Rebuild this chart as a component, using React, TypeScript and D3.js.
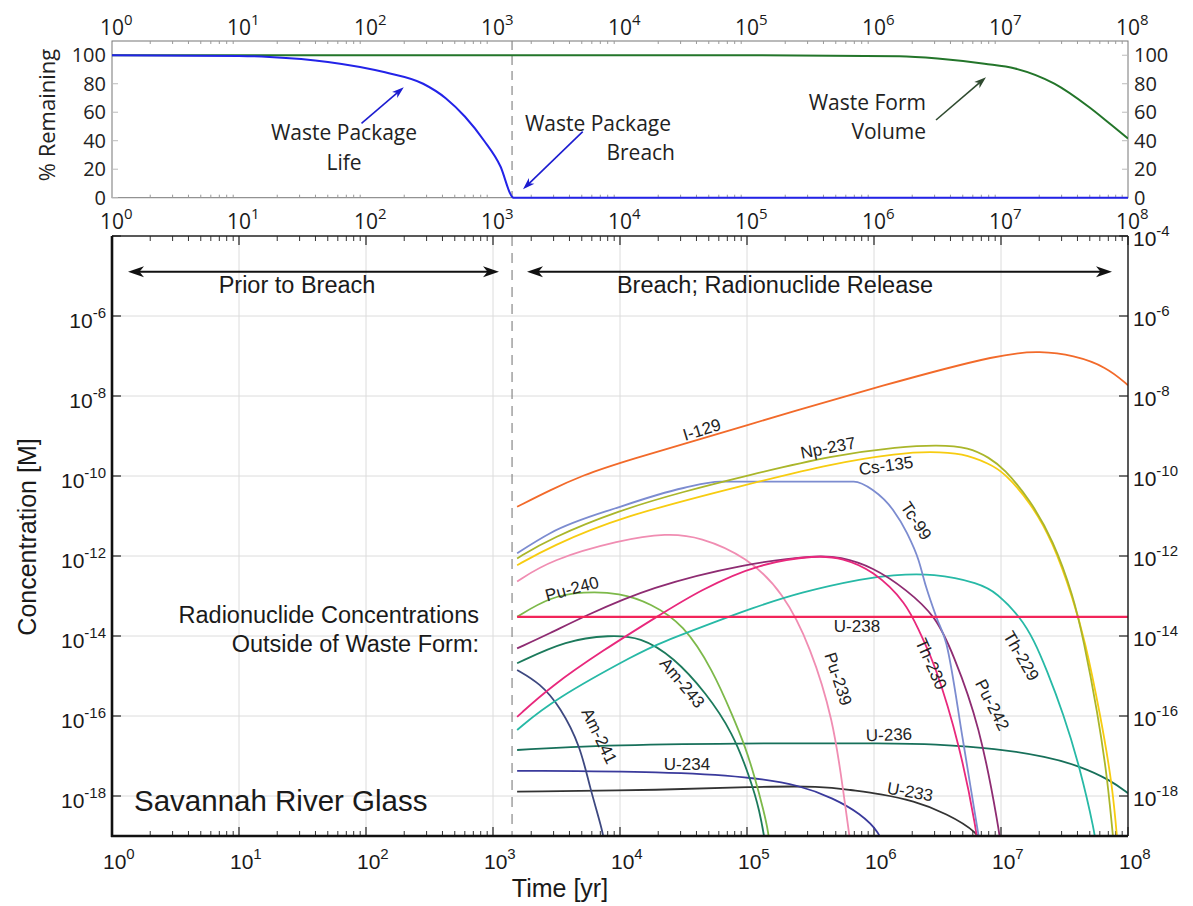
import React from 'react';
import * as d3 from 'd3';

// ---------- DATA ----------
// Top panel: [log10(time, yr), % remaining]
const wastePackageLife: number[][] = [
  [0, 100], [1.0, 99.5], [1.24, 98.8], [1.7, 95.3], [2.15, 88], [2.45, 80], [2.63, 69.7],
  [2.78, 56.8], [2.93, 40], [3.06, 21.7], [3.15, 0.7], [3.16, 0], [8, 0],
];
const wasteFormVolume: number[][] = [
  [0, 100], [5.0, 100], [6.2, 99.3], [6.5, 97.7], [6.87, 94], [7.11, 90.7], [7.42, 80],
  [7.69, 63.8], [7.87, 51], [8.0, 41.6],
];

// Bottom panel: [log10(time, yr), log10(concentration, M)]
const I129 = [[3.19, -10.77], [3.45, -10.35], [3.71, -9.98], [4.0, -9.66], [5.0, -8.73], [6.1, -7.7], [7.02, -6.93], [7.31, -6.88], [7.57, -6.98], [7.83, -7.27], [8.0, -7.73]];
const Np237 = [[3.19, -12.06], [3.45, -11.56], [4.0, -10.85], [4.5, -10.39], [5.0, -9.99], [5.68, -9.48], [6.2, -9.27], [6.5, -9.22], [6.75, -9.28], [6.91, -9.55], [7.02, -9.8], [7.23, -10.6], [7.41, -11.6], [7.57, -13.0], [7.65, -14.1], [7.76, -15.9], [7.84, -17.6], [7.89, -19.3], [7.9, -19.6]];
const Cs135 = [[3.19, -12.23], [3.45, -11.77], [4.0, -11.02], [5.0, -10.21], [5.68, -9.68], [6.2, -9.43], [6.44, -9.39], [6.7, -9.43], [6.91, -9.7], [7.02, -9.9], [7.23, -10.65], [7.41, -11.65], [7.57, -13.1], [7.66, -14.1], [7.78, -15.93], [7.88, -17.77], [7.92, -19.3], [7.93, -19.6]];
const Tc99 = [[3.19, -11.93], [3.45, -11.43], [4.0, -10.77], [4.5, -10.3], [4.79, -10.14], [5.84, -10.14], [5.99, -10.35], [6.15, -10.85], [6.26, -11.43], [6.35, -12.1], [6.41, -12.77], [6.49, -13.52], [6.57, -14.2], [6.7, -16.6], [6.82, -18.93], [6.84, -19.3]];
const Pu239 = [[3.19, -12.64], [3.45, -12.1], [4.0, -11.6], [4.37, -11.43], [4.63, -11.52], [5.0, -12.02], [5.29, -12.93], [5.5, -14.27], [5.68, -16.1], [5.76, -17.93], [5.82, -19.3], [5.83, -19.6]];
const Pu240 = [[3.19, -13.52], [3.45, -13.02], [3.71, -12.89], [4.0, -12.92], [4.24, -13.18], [4.5, -13.7], [4.73, -14.85], [4.89, -16.02], [4.99, -16.8], [5.06, -17.52], [5.13, -18.35], [5.17, -18.93], [5.18, -19.3], [5.19, -19.6]];
const Pu242 = [[3.19, -14.31], [3.45, -13.93], [3.71, -13.52], [4.24, -12.77], [5.0, -12.18], [5.55, -11.98], [5.73, -12.02], [5.99, -12.27], [6.26, -12.85], [6.49, -13.52], [6.62, -14.43], [6.83, -16.18], [6.99, -18.93], [7.0, -19.3], [7.01, -19.6]];
const Th230 = [[3.19, -16.02], [3.45, -15.27], [3.87, -14.35], [4.29, -13.52], [4.63, -12.85], [5.1, -12.18], [5.55, -11.98], [5.75, -12.05], [5.99, -12.35], [6.26, -13.18], [6.36, -13.93], [6.47, -14.6], [6.68, -16.77], [6.81, -18.93], [6.82, -19.3], [6.83, -19.6]];
const Th229 = [[3.19, -16.35], [3.47, -15.6], [4.16, -14.4], [4.31, -14.18], [4.79, -13.6], [5.0, -13.35], [5.42, -12.9], [5.94, -12.55], [6.13, -12.48], [6.47, -12.43], [6.83, -12.68], [6.97, -12.93], [7.15, -13.52], [7.26, -14.1], [7.36, -14.85], [7.49, -15.93], [7.62, -17.27], [7.74, -18.93], [7.75, -19.3], [7.76, -19.6]];
const U238 = [[3.19, -13.52], [8.0, -13.52]];
const Am243 = [[3.19, -14.68], [3.58, -14.1], [3.92, -13.98], [4.16, -14.02], [4.42, -14.52], [4.68, -15.43], [4.89, -16.43], [5.02, -17.52], [5.1, -18.35], [5.15, -19.3], [5.16, -19.6]];
const Am241 = [[3.19, -14.85], [3.37, -15.18], [3.53, -15.77], [3.69, -16.77], [3.76, -17.77], [3.87, -18.93], [3.88, -19.3], [3.89, -19.6]];
const U236 = [[3.19, -16.85], [3.84, -16.73], [4.89, -16.68], [6.2, -16.68], [6.44, -16.7], [6.97, -16.81], [7.36, -17.02], [7.62, -17.25], [7.86, -17.6], [8.0, -17.93]];
const U234 = [[3.19, -17.37], [4.37, -17.39], [5.02, -17.52], [5.42, -17.73], [5.68, -18.06], [5.89, -18.43], [6.05, -18.93], [6.07, -19.3], [6.08, -19.6]];
const U233 = [[3.19, -17.89], [4.37, -17.85], [5.02, -17.77], [5.6, -17.75], [5.81, -17.85], [6.05, -17.95], [6.31, -18.12], [6.57, -18.43], [6.83, -18.93], [6.86, -19.3], [6.87, -19.6]];

const timeDecades = [0, 1, 2, 3, 4, 5, 6, 7, 8];
const concDecades = [-18, -16, -14, -12, -10, -8, -6, -4];
const pctTicks = [0, 20, 40, 60, 80, 100];
const breachYearLog = 3.15;

// ---------- STYLES / LAYOUT ----------
const SERIES = [
  { name: 'U-233', data: U233, color: '#333333' },
  { name: 'U-234', data: U234, color: '#3a3a9c' },
  { name: 'U-236', data: U236, color: '#17705a' },
  { name: 'Am-241', data: Am241, color: '#3d4880' },
  { name: 'Am-243', data: Am243, color: '#1c7a5c' },
  { name: 'Pu-240', data: Pu240, color: '#7db94a' },
  { name: 'Pu-239', data: Pu239, color: '#f08db2' },
  { name: 'Th-229', data: Th229, color: '#27b9a6' },
  { name: 'Pu-242', data: Pu242, color: '#8e2c72' },
  { name: 'Th-230', data: Th230, color: '#e8287c' },
  { name: 'Tc-99', data: Tc99, color: '#7c8cd0', flat: true },
  { name: 'Cs-135', data: Cs135, color: '#f7cc10' },
  { name: 'Np-237', data: Np237, color: '#aab62a' },
  { name: 'I-129', data: I129, color: '#f26a2a' },
  { name: 'U-238', data: U238, color: '#f2255a' },
];

const LABELS = [
  { text: 'I-129', x: 702, y: 430, rot: -17 },
  { text: 'Np-237', x: 828, y: 448, rot: -11 },
  { text: 'Cs-135', x: 886, y: 466, rot: -8 },
  { text: 'Tc-99', x: 916, y: 521, rot: 57 },
  { text: 'Pu-240', x: 572, y: 589, rot: -15 },
  { text: 'U-238', x: 857, y: 626, rot: 0 },
  { text: 'Am-243', x: 682, y: 683, rot: 50 },
  { text: 'Am-241', x: 599, y: 736, rot: 64 },
  { text: 'Pu-239', x: 838, y: 679, rot: 72 },
  { text: 'U-236', x: 889, y: 735, rot: -2 },
  { text: 'U-234', x: 687, y: 764, rot: 0 },
  { text: 'U-233', x: 910, y: 792, rot: 10 },
  { text: 'Th-230', x: 931, y: 664, rot: 66 },
  { text: 'Pu-242', x: 992, y: 705, rot: 63 },
  { text: 'Th-229', x: 1021, y: 656, rot: 60 },
];

const L = 112, R = 1128;
const T1 = 41, B1 = 197.7;
const T2 = 236, B2 = 836;
const xS = d3.scaleLog().domain([1, 1e8]).range([L, R]);
const yTop = d3.scaleLinear().domain([0, 110]).range([B1, T1]);
const yBot = d3.scaleLog().domain([1e-19, 1e-4]).range([B2, T2]);

const FONT_B = '"Liberation Sans", Arial, Helvetica, sans-serif';
const FONT_T = '"Open Sans", "Noto Sans", sans-serif';

function head(x1: number, y1: number, x2: number, y2: number, len: number, w: number) {
  const dx = x2 - x1, dy = y2 - y1;
  const d = Math.hypot(dx, dy);
  const ux = dx / d, uy = dy / d;
  const nx = -uy, ny = ux;
  const bx = x2 - ux * len, by = y2 - uy * len;
  const mx = x2 - ux * len * 0.72, my = y2 - uy * len * 0.72;
  return `M${x2},${y2}L${bx + nx * w / 2},${by + ny * w / 2}L${mx},${my}L${bx - nx * w / 2},${by - ny * w / 2}Z`;
}

function Arrow({ x1, y1, x2, y2, color, sw, len, w }: any) {
  const dx = x2 - x1, dy = y2 - y1;
  const d = Math.hypot(dx, dy);
  const ex = x2 - (dx / d) * len * 0.6, ey = y2 - (dy / d) * len * 0.6;
  return (
    <g>
      <line x1={x1} y1={y1} x2={ex} y2={ey} stroke={color} strokeWidth={sw} />
      <path d={head(x1, y1, x2, y2, len, w)} fill={color} />
    </g>
  );
}

function DoubleArrow({ x1, x2, y }: any) {
  return (
    <g>
      <line x1={x1 + 8} y1={y} x2={x2 - 8} y2={y} stroke="#111" strokeWidth={2} />
      <path d={head(x2, y, x1, y, 16, 11)} fill="#111" />
      <path d={head(x1, y, x2, y, 16, 11)} fill="#111" />
    </g>
  );
}

function Pow({ x, y, e, anchor, fs, es, font }: any) {
  return (
    <text x={x} y={y} fontSize={fs} fontFamily={font} fill="#1a1a1a" textAnchor={anchor}>
      10<tspan dy={-fs * 0.48} fontSize={es}>{e}</tspan>
    </text>
  );
}

export default function App() {
  const lineBotSmooth = d3.line<number[]>()
    .x(d => xS(Math.pow(10, d[0])))
    .y(d => yBot(Math.pow(10, d[1])))
    .curve(d3.curveBasis);
  const lineBotFlat = d3.line<number[]>()
    .x(d => xS(Math.pow(10, d[0])))
    .y(d => yBot(Math.pow(10, d[1])))
    .curve(d3.curveMonotoneX);
  const lineTop = d3.line<number[]>()
    .x(d => xS(Math.pow(10, d[0])))
    .y(d => yTop(d[1]))
    .curve(d3.curveMonotoneX);

  const minor: number[] = [];
  for (let k = 0; k < 8; k++) for (let m = 2; m <= 9; m++) minor.push(m * Math.pow(10, k));
  const xb = xS(Math.pow(10, breachYearLog));

  return (
    <div style={{ position: 'absolute', left: 0, top: 0 }}>
      <svg width={1193} height={906} style={{ display: 'block', background: '#fff' }}>
        <defs>
          <clipPath id="clipBot"><rect x={L} y={T2} width={R - L} height={B2 - T2} /></clipPath>
          <clipPath id="clipTop"><rect x={L} y={T1 - 2} width={R - L} height={B1 - T1 + 4} /></clipPath>
        </defs>

        {/* ===== TOP PANEL ===== */}
        <rect x={L} y={T1} width={R - L} height={B1 - T1} fill="none" stroke="#777" strokeWidth={1} />
        {minor.map((v, i) => (
          <g key={'tm' + i}>
            <line x1={xS(v)} x2={xS(v)} y1={T1} y2={T1 + 3} stroke="#999" />
            <line x1={xS(v)} x2={xS(v)} y1={B1} y2={B1 - 3} stroke="#999" />
          </g>
        ))}
        {pctTicks.map(p => (
          <g key={'pt' + p}>
            <line x1={L} x2={L + 6} y1={yTop(p)} y2={yTop(p)} stroke="#bbb" />
            <line x1={R} x2={R - 6} y1={yTop(p)} y2={yTop(p)} stroke="#bbb" />
            <text x={106} y={yTop(p) + 7} fontSize={20} fontFamily={FONT_T} textAnchor="end" fill="#222">{p}</text>
            <text x={1134} y={yTop(p) + 7} fontSize={20} fontFamily={FONT_T} textAnchor="start" fill="#222">{p}</text>
          </g>
        ))}
        {timeDecades.map(k => (
          <g key={'tx' + k}>
            <Pow x={xS(Math.pow(10, k)) - 12} y={35} e={k} anchor="start" fs={21} es={15} font={FONT_T} />
            <Pow x={xS(Math.pow(10, k)) - 12} y={229} e={k} anchor="start" fs={21} es={15} font={FONT_T} />
          </g>
        ))}
        <line x1={xb} x2={xb} y1={T1} y2={B1} stroke="#888" strokeWidth={1.2} strokeDasharray="9,6" />
        <g clipPath="url(#clipTop)">
          <path d={lineTop(wasteFormVolume) || ''} fill="none" stroke="#23752a" strokeWidth={2} />
          <path d={lineTop(wastePackageLife) || ''} fill="none" stroke="#2323e8" strokeWidth={2} />
        </g>
        <text transform="translate(55,115) rotate(-90)" fontSize={22} fontFamily={FONT_T} textAnchor="middle" fill="#222">% Remaining</text>

        <text x={344} y={140} fontSize={21} fontFamily={FONT_T} textAnchor="middle" fill="#222">Waste Package</text>
        <text x={344} y={170} fontSize={21} fontFamily={FONT_T} textAnchor="middle" fill="#222">Life</text>
        <Arrow x1={361.5} y1={123.3} x2={403.8} y2={87.3} color="#1c1cd0" sw={1.6} len={12} w={8} />

        <text x={671} y={131} fontSize={21} fontFamily={FONT_T} textAnchor="end" fill="#222">Waste Package</text>
        <text x={675} y={160} fontSize={21} fontFamily={FONT_T} textAnchor="end" fill="#222">Breach</text>
        <Arrow x1={582.7} y1={131.7} x2={523} y2={189.3} color="#1c1cd0" sw={1.6} len={12} w={8} />

        <text x={926} y={110} fontSize={21} fontFamily={FONT_T} textAnchor="end" fill="#222">Waste Form</text>
        <text x={926} y={139} fontSize={21} fontFamily={FONT_T} textAnchor="end" fill="#222">Volume</text>
        <Arrow x1={936} y1={120} x2={986} y2={77.3} color="#2f4a2f" sw={1.6} len={12} w={8} />

        {/* ===== BOTTOM PANEL ===== */}
        {timeDecades.slice(1, 8).map(k => (
          <line key={'gx' + k} x1={xS(Math.pow(10, k))} x2={xS(Math.pow(10, k))} y1={T2} y2={B2} stroke="#dcdcdc" strokeWidth={1} />
        ))}
        {concDecades.slice(0, 7).map(k => (
          <line key={'gy' + k} x1={L} x2={R} y1={yBot(Math.pow(10, k))} y2={yBot(Math.pow(10, k))} stroke="#dcdcdc" strokeWidth={1} />
        ))}
        {minor.map((v, i) => (
          <g key={'bm' + i}>
            <line x1={xS(v)} x2={xS(v)} y1={B2} y2={B2 - 5} stroke="#333" />
            <line x1={xS(v)} x2={xS(v)} y1={T2} y2={T2 + 5} stroke="#333" />
          </g>
        ))}
        {timeDecades.map(k => (
          <g key={'bmaj' + k}>
            <line x1={xS(Math.pow(10, k))} x2={xS(Math.pow(10, k))} y1={B2} y2={B2 - 9} stroke="#222" strokeWidth={1.2} />
            <line x1={xS(Math.pow(10, k))} x2={xS(Math.pow(10, k))} y1={T2} y2={T2 + 9} stroke="#222" strokeWidth={1.2} />
            <Pow x={xS(Math.pow(10, k)) - 9} y={869} e={k} anchor="start" fs={21} es={15} font={FONT_B} />
          </g>
        ))}
        {concDecades.map(k => (
          <g key={'yl' + k}>
            <line x1={L} x2={L + 9} y1={yBot(Math.pow(10, k))} y2={yBot(Math.pow(10, k))} stroke="#222" strokeWidth={1.2} />
            <line x1={R} x2={R - 9} y1={yBot(Math.pow(10, k))} y2={yBot(Math.pow(10, k))} stroke="#222" strokeWidth={1.2} />
            {k !== -4 && (
              <text x={106} y={yBot(Math.pow(10, k)) + 12} fontSize={21} fontFamily={FONT_B} textAnchor="end" fill="#1a1a1a">
                10<tspan dy={-10} fontSize={15}>{String(k)}</tspan>
              </text>
            )}
            <Pow x={1133} y={yBot(Math.pow(10, k)) + 10} e={String(k)} anchor="start" fs={21} es={15} font={FONT_B} />
          </g>
        ))}
        <line x1={xb} x2={xb} y1={T2} y2={B2} stroke="#888" strokeWidth={1.2} strokeDasharray="10,7" />

        <g clipPath="url(#clipBot)">
          {SERIES.map(s => (
            <path key={s.name} d={((s as any).flat ? lineBotFlat : lineBotSmooth)(s.data) || ''} fill="none"
              stroke={s.color} strokeWidth={s.name === 'U-238' ? 2.2 : 1.8} />
          ))}
        </g>

        {/* frame */}
        <line x1={L} x2={R} y1={T2} y2={T2} stroke="#222" strokeWidth={1.5} />
        <line x1={R} x2={R} y1={T2} y2={B2} stroke="#222" strokeWidth={1.5} />
        <line x1={L} x2={L} y1={T2} y2={B2 + 1} stroke="#111" strokeWidth={2.6} />
        <line x1={L - 1} x2={R} y1={B2} y2={B2} stroke="#111" strokeWidth={2.6} />

        {LABELS.map(l => (
          <text key={l.text} transform={`translate(${l.x},${l.y}) rotate(${l.rot})`} fontSize={17} fontFamily={FONT_B}
            textAnchor="middle" dominantBaseline="central" fill="#222">{l.text}</text>
        ))}

        <DoubleArrow x1={128} x2={499} y={271.7} />
        <text x={297} y={293} fontSize={23.5} fontFamily={FONT_B} textAnchor="middle" fill="#1a1a1a">Prior to Breach</text>
        <DoubleArrow x1={527} x2={1112} y={271.7} />
        <text x={775} y={293} fontSize={23.5} fontFamily={FONT_B} textAnchor="middle" fill="#1a1a1a">Breach; Radionuclide Release</text>

        <text x={479} y={623} fontSize={23.5} fontFamily={FONT_B} textAnchor="end" fill="#1a1a1a">Radionuclide Concentrations</text>
        <text x={479} y={652} fontSize={23.5} fontFamily={FONT_B} textAnchor="end" fill="#1a1a1a">Outside of Waste Form:</text>
        <text x={134} y={811} fontSize={29.5} fontFamily={FONT_B} textAnchor="start" fill="#1a1a1a">Savannah River Glass</text>

        <text transform="translate(36,537) rotate(-90)" fontSize={25} fontFamily={FONT_B} textAnchor="middle" fill="#1a1a1a">Concentration [M]</text>
        <text x={560} y={897} fontSize={25} fontFamily={FONT_B} textAnchor="middle" fill="#1a1a1a">Time [yr]</text>
      </svg>
    </div>
  );
}
